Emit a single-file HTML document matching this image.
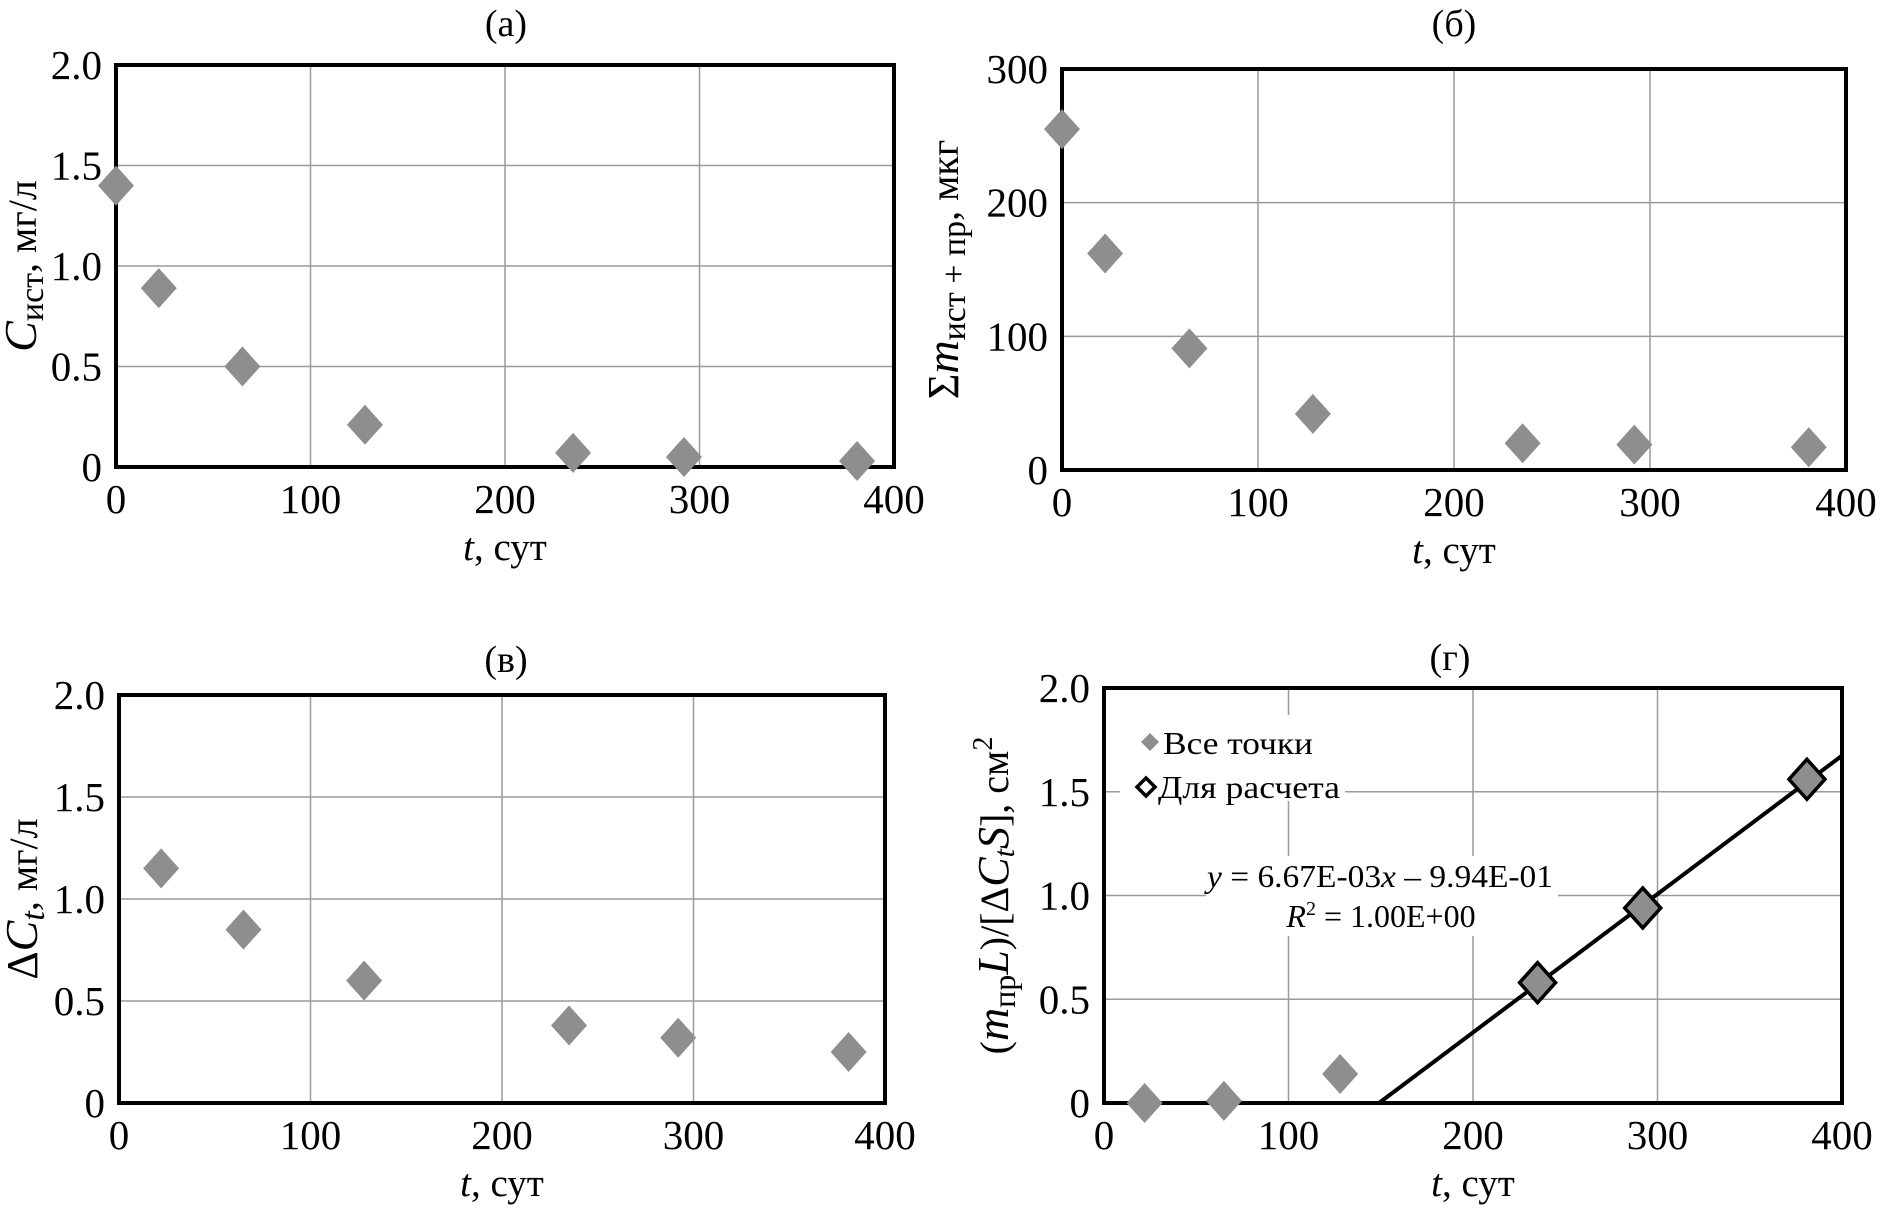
<!DOCTYPE html>
<html><head><meta charset="utf-8"><style>
html,body{margin:0;padding:0;background:#fff}
svg, svg text{font-family:"Liberation Serif","Times New Roman",serif}
</style></head><body>
<svg id="fig" width="1882" height="1217" viewBox="0 0 1882 1217" xmlns="http://www.w3.org/2000/svg" font-family="Liberation Serif, serif">
<rect width="1882" height="1217" fill="#fff"/>
</svg>
<script>
// panel (a)
const aT=[0,22,65,128,235,292,381];
const aC=[1.40,0.89,0.50,0.21,0.07,0.05,0.03];
const aYTicks=[0,0.5,1.0,1.5,2.0];
const aYLabels=["0","0.5","1.0","1.5","2.0"];
// panel (b)
const bT=[0,22,65,128,235,292,381];
const bM=[255,162,91,42,20,19,17];
const bYTicks=[0,100,200,300];
const bYLabels=["0","100","200","300"];
// panel (v)
const vT=[22,65,128,235,292,381];
const vC=[1.15,0.85,0.60,0.38,0.32,0.25];
// panel (g)
const gAllT=[22,65,128];
const gAllY=[0.00,0.01,0.14];
const gCalcT=[235,292,381];
const gCalcY=[0.58,0.94,1.56];
const gSlope=[0.00667];
const gIntercept=[-0.994];
const xTicks=[0,100,200,300,400];
const xLabels=["0","100","200","300","400"];

const NS="http://www.w3.org/2000/svg";
const svg=document.getElementById('fig');
const FF='Liberation Serif, serif';
function el(tag,attrs,parent,txt){const e=document.createElementNS(NS,tag);for(const k in attrs)e.setAttribute(k,attrs[k]);if(tag==='text')e.setAttribute('font-family',FF);if(txt!==undefined)e.textContent=txt;(parent||svg).appendChild(e);return e;}

function panel(id,box,ymax,yTicks,yLabels,title,titleX,titleY,yTitleHTML,yOff){
  const g=el('g',{},svg);
  
  
  const sx=v=>box.l+(v/400)*(box.r-box.l);
  const sy=v=>box.b-(v/ymax)*(box.b-box.t);
  xTicks.forEach((t,i)=>{
    if(i>0&&i<xTicks.length-1){const l=el('line',{x1:sx(t),x2:sx(t),y1:box.t,y2:box.b,stroke:'#9a9a9a','stroke-width':1.5},g);
    
    }
    const tx=el('text',{x:sx(t),y:box.b+46,'font-size':41,'text-anchor':'middle'},g,xLabels[i]);
    
    
  });
  yTicks.forEach((t,i)=>{
    if(i>0&&i<yTicks.length-1){const l=el('line',{x1:box.l,x2:box.r,y1:sy(t),y2:sy(t),stroke:'#9a9a9a','stroke-width':1.5},g);
    
    }
    const tx=el('text',{x:box.l-14,y:sy(t)+14,'font-size':41,'text-anchor':'end'},g,yLabels[i]);
    
    
  });
  const fr=el('rect',{x:box.l,y:box.t,width:box.r-box.l,height:box.b-box.t,fill:'none',stroke:'#000','stroke-width':4},g);
  
  
  const tt=el('text',{x:titleX,y:titleY,'font-size':38,'text-anchor':'middle'},g,title);
  
  
  const xt=el('text',{x:(box.l+box.r)/2,y:box.b+93,'font-size':39,'text-anchor':'middle'},g);
  
  
  xt.innerHTML='<tspan font-style="italic">t</tspan>, сут';
  const yt=el('text',{x:0,y:0,'font-size':40,'text-anchor':'middle',transform:`translate(${box.l-yOff},${(box.t+box.b)/2}) rotate(-90)`},g);
  
  
  yt.innerHTML=yTitleHTML;
  return {g,sx,sy};
}
function diamond(g,x,y,fill,stroke,name){
  const w=18,h=20;
  const p=el('polygon',{points:`${x},${y-h} ${x+w},${y} ${x},${y+h} ${x-w},${y}`,fill:fill,stroke:stroke||'none','stroke-width':stroke?3.5:0},g);
  
  
}
const GRAY='#8e8e8e';
// (a)
let A=panel('panel-a',{l:116,r:894,t:65,b:467},2,aYTicks,aYLabels,'(а)',506,36,
 '<tspan font-style="italic" font-size="46">C</tspan><tspan font-size="34" dy="7">ист</tspan><tspan dy="-7">, мг/л</tspan>',80);
aT.forEach((t,i)=>diamond(A.g,A.sx(t),A.sy(aC[i]),GRAY,null,'point-a'));
// (b)
let B=panel('panel-b',{l:1062,r:1846,t:69,b:470},300,bYTicks,bYLabels,'(б)',1454,36,
 '<tspan font-size="44">Σ</tspan><tspan font-style="italic" font-size="46">m</tspan><tspan font-size="34" dy="7">ист + пр</tspan><tspan dy="-7">, мкг</tspan>',104);
bT.forEach((t,i)=>diamond(B.g,B.sx(t),B.sy(bM[i]),GRAY,null,'point-b'));
// (v)
let V=panel('panel-v',{l:119,r:885,t:695,b:1103},2,aYTicks,aYLabels,'(в)',506,672,
 '<tspan font-size="44">Δ</tspan><tspan font-style="italic" font-size="46">C</tspan><tspan font-style="italic" font-size="34" dy="7">t</tspan><tspan dy="-7">, мг/л</tspan>',82);
vT.forEach((t,i)=>diamond(V.g,V.sx(t),V.sy(vC[i]),GRAY,null,'point-v'));
// (g)
let G=panel('panel-g',{l:1104,r:1842,t:688,b:1103},2,aYTicks,aYLabels,'(г)',1450,670,
 '(<tspan font-style="italic" font-size="46">m</tspan><tspan font-size="32" dy="7">пр</tspan><tspan font-style="italic" font-size="44" dy="-7">L</tspan>)/[Δ<tspan font-style="italic" font-size="44">C</tspan><tspan font-style="italic" font-size="30" dy="6">t</tspan><tspan font-style="italic" font-size="44" dy="-6">S</tspan>], см<tspan font-size="28" dy="-16">2</tspan>',96);
// legend box & equation box
let lb=el('rect',{x:1120,y:715,width:225,height:86,fill:'#fff'},G.g);


let eb=el('rect',{x:1206,y:856,width:352,height:80,fill:'#fff'},G.g);


// fit line
const x0=-gIntercept[0]/gSlope[0];
let fl=el('line',{x1:G.sx(x0),y1:G.sy(0),x2:G.sx(400),y2:G.sy(gSlope[0]*400+gIntercept[0]),stroke:'#000','stroke-width':4},G.g);


gAllT.forEach((t,i)=>diamond(G.g,G.sx(t),G.sy(gAllY[i]),GRAY,null,'point-all'));
gCalcT.forEach((t,i)=>diamond(G.g,G.sx(t),G.sy(gCalcY[i]),GRAY,'#000','point-calc'));
// legend
let l1=el('polygon',{points:'1150,733 1159,742 1150,751 1141,742',fill:GRAY},G.g);


let lt1=el('text',{x:1163,y:754,'font-size':32,textLength:150,lengthAdjust:'spacingAndGlyphs'},G.g,'Все точки');


let l2=el('polygon',{points:'1146,778 1155,787 1146,796 1137,787',fill:'#fff',stroke:'#000','stroke-width':3.5},G.g);


let lt2=el('text',{x:1158,y:798,'font-size':32,textLength:182,lengthAdjust:'spacingAndGlyphs'},G.g,'Для расчета');


let eq=el('text',{x:1207,y:887,'font-size':32,textLength:346,lengthAdjust:'spacingAndGlyphs'},G.g);


eq.innerHTML='<tspan font-style="italic">y</tspan> = 6.67E-03<tspan font-style="italic">x</tspan> – 9.94E-01';
let r2=el('text',{x:1381,y:927,'font-size':32,'text-anchor':'middle'},G.g);


r2.innerHTML='<tspan font-style="italic">R</tspan><tspan font-size="20" dy="-12">2</tspan><tspan dy="12"> = 1.00E+00</tspan>';
</script>
</body></html>
